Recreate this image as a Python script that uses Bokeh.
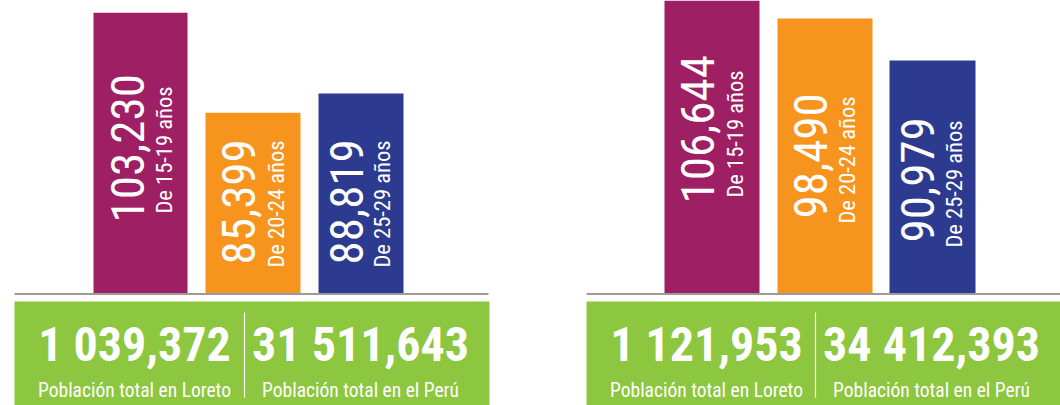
import math
from bokeh.plotting import figure
from bokeh.models import Range1d, ColumnDataSource
from bokeh.core.properties import value
from bokeh.embed import file_html
from bokeh.resources import INLINE

# ---------------- data ----------------
age_groups = ["De 15-19 años", "De 20-24 años", "De 25-29 años"]
youth_left = [103230, 85399, 88819]      # panel izquierdo
youth_right = [106644, 98490, 90979]     # panel derecho
total_titles = ["Población total en Loreto", "Población total en el Perú"]
totals_left = [1039372, 31511643]
totals_right = [1121953, 34412393]

# ---------------- style / layout ----------------
colors = ["#9E1F63", "#F7941D", "#2C3A8F"]
green = "#8DC63F"
font = "'Roboto Condensed', 'DejaVu Sans Condensed', sans-serif"
W, H = 1060, 405
TOP_Y, BOTTOM_Y, BASE_Y = 0, 405, 293.5          # page pixels
PX_PER_UNIT = 0.00561
floors = [53093, 49370]                           # value at bar baseline
bar_x = [[140, 252.5, 360.5], [711.5, 824.5, 932]]
bar_w = [[94, 95, 85], [95, 95, 86]]
num_dx = [[-13, -14.5, -14.5], [-14.5, -14.5, -15]]
sub_dx = [[23, 22.5, 20.5], [22.5, 21.5, 21]]
num_y = [[222, 264, 264], [203, 218, 242]]
sub_y = [[213, 267, 267], [197, 223, 247]]
panel_x = [(14, 489), (586, 1060)]
divider_x = [244, 815]
total_cx = [[134, 360], [706, 931]]
total_y, title_y = 344, 390


def fmt_total(v):
    m, r = divmod(v, 1_000_000)
    return f"{m} {r // 1000:03d},{r % 1000:03d}"


def vrange(floor):
    return Range1d(floor - (BOTTOM_Y - BASE_Y) / PX_PER_UNIT,
                   floor + (BASE_Y - TOP_Y) / PX_PER_UNIT)


p = figure(width=W, height=H, output_backend="svg", toolbar_location=None,
           x_range=Range1d(0, W), y_range=vrange(floors[0]),
           min_border=0, min_border_left=0, min_border_right=0,
           min_border_top=0, min_border_bottom=0)
p.extra_y_ranges = {"b": vrange(floors[1]), "px": Range1d(BOTTOM_Y, TOP_Y)}
p.axis.visible = False
p.grid.visible = False
p.outline_line_color = None
p.background_fill_color = "white"
p.border_fill_color = "white"

panels = [(youth_left, totals_left, "default"), (youth_right, totals_right, "b")]
for i, (vals, totals, yr) in enumerate(panels):
    # bars
    src = ColumnDataSource(dict(x=bar_x[i], w=bar_w[i], top=vals,
                                bottom=[floors[i]] * 3, color=colors))
    p.vbar(x="x", width="w", top="top", bottom="bottom", color="color",
           source=src, y_range_name=yr, line_color=None)
    # baseline
    p.segment(x0=[panel_x[i][0]], x1=[panel_x[i][1] - (1 if i == 0 else 0)],
              y0=[BASE_Y], y1=[BASE_Y], y_range_name="px",
              line_color="#9b9b9b", line_width=2)
    # rotated value labels
    nsrc = ColumnDataSource(dict(
        x=[bx + d for bx, d in zip(bar_x[i], num_dx[i])], y=num_y[i],
        t=[f"{v:,}" for v in vals]))
    p.text(x="x", y="y", text="t", source=nsrc, y_range_name="px",
           angle=math.pi / 2, text_align="left", text_baseline="alphabetic",
           text_color="white", text_font=value(font), text_font_size="47px")
    ssrc = ColumnDataSource(dict(
        x=[bx + d for bx, d in zip(bar_x[i], sub_dx[i])], y=sub_y[i],
        t=age_groups))
    p.text(x="x", y="y", text="t", source=ssrc, y_range_name="px",
           angle=math.pi / 2, text_align="left", text_baseline="alphabetic",
           text_color="white", text_font=value(font), text_font_size="22.5px")
    # green totals box
    p.quad(left=[panel_x[i][0]], right=[panel_x[i][1]], top=[301], bottom=[410],
           y_range_name="px", color=green, line_color=None)
    p.segment(x0=[divider_x[i]], x1=[divider_x[i]], y0=[312], y1=[397],
              y_range_name="px", line_color="white", line_width=1.2)
    tsrc = ColumnDataSource(dict(x=total_cx[i], y=[total_y] * 2,
                                 t=[fmt_total(v) for v in totals]))
    p.text(x="x", y="y", text="t", source=tsrc, y_range_name="px",
           text_align="center", text_baseline="alphabetic",
           text_color="white", text_font=value(font), text_font_style="bold",
           text_font_size="48px")
    lsrc = ColumnDataSource(dict(x=total_cx[i], y=[title_y] * 2, t=total_titles))
    p.text(x="x", y="y", text="t", source=lsrc, y_range_name="px",
           text_align="center", text_baseline="alphabetic",
           text_color="white", text_font=value(font), text_font_size="19.5px")

open("out.html", "w").write(file_html(p, INLINE))
